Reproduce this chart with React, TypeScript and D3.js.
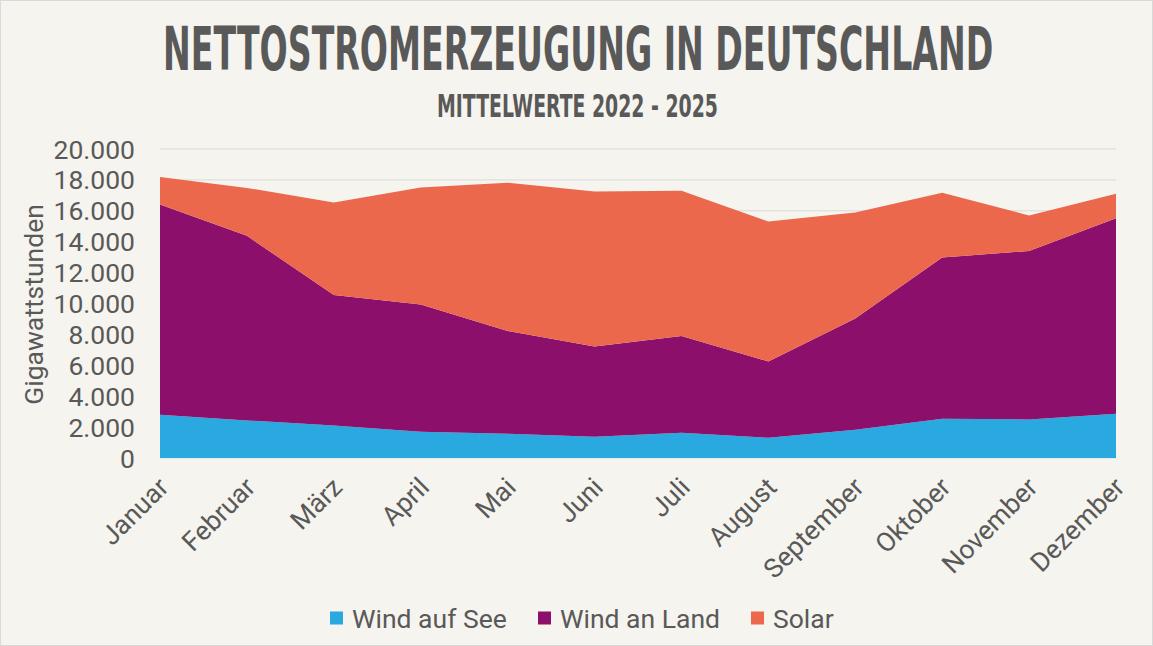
import * as d3 from "d3";
import { useLayoutEffect, useRef, useState } from "react";

const months = [
  "Januar", "Februar", "März", "April", "Mai", "Juni",
  "Juli", "August", "September", "Oktober", "November", "Dezember",
];
// monthly averages 2022-2025, GWh
const windOffshore = [2800, 2430, 2110, 1700, 1570, 1380, 1640, 1310, 1830, 2540, 2500, 2870];
const windOnshore = [13600, 11950, 8440, 8240, 6650, 5840, 6260, 4940, 7200, 10440, 10900, 12640];
const solar = [1790, 3100, 5990, 7570, 9600, 10030, 9400, 9060, 6860, 4190, 2300, 1600];
const yTicks = [0, 2000, 4000, 6000, 8000, 10000, 12000, 14000, 16000, 18000, 20000];

const seriesNames = ["Wind auf See", "Wind an Land", "Solar"];
const seriesColors = ["#29a9e0", "#8c0f6b", "#eb684c"];

const W = 1153;
const H = 646;
const textColor = "#595959";
const font = "Roboto, 'Noto Sans', sans-serif";
const titleFont = "'DejaVu Sans Condensed', 'DejaVu Sans', sans-serif";

// squeezes a bold heading horizontally so it spans `width` px
const FitText = ({ x, y, width, size, children }: any) => {
  const ref = useRef<SVGTextElement>(null);
  const [sx, setSx] = useState(0.7);
  useLayoutEffect(() => {
    if (ref.current) {
      const w = ref.current.getBBox().width;
      if (w > 0) setSx(width / w);
    }
  }, [width, children]);
  return (
    <g transform={`translate(${x},${y}) scale(${sx},1)`}>
      <text
        ref={ref}
        fontFamily={titleFont}
        fontWeight="bold"
        fontSize={size}
        fill={textColor}
      >
        {children}
      </text>
    </g>
  );
};

export default function App() {
  const rows = months.map((m, i) => ({
    month: m,
    s0: windOffshore[i],
    s1: windOnshore[i],
    s2: solar[i],
  }));
  const stack = d3.stack<any>().keys(["s0", "s1", "s2"]);
  const layers = stack(rows);

  const x = d3.scalePoint<string>().domain(months).range([160, 1116]);
  const y = d3.scaleLinear().domain([0, 20000]).range([458, 149]);

  const area = d3
    .area<any>()
    .x((d) => x(d.data.month)!)
    .y0((d) => y(d[0]))
    .y1((d) => y(d[1]));

  const fmt = d3.formatLocale({
    decimal: ",",
    thousands: ".",
    grouping: [3],
    currency: ["", "€"],
  }).format(",d");

  // legend items laid out left to right
  const legendX = [330, 538, 751];

  return (
    <svg
      width={W}
      height={H}
      style={{ position: "absolute", left: 0, top: 0 }}
      fontFamily={font}
    >
      <rect x={0.5} y={0.5} width={W - 1} height={H - 1} fill="#f5f4ee" stroke="#d9d9d9" />

      <FitText x={163} y={70} width={830} size={60}>
        NETTOSTROMERZEUGUNG IN DEUTSCHLAND
      </FitText>
      <FitText x={437} y={117} width={281} size={32}>
        MITTELWERTE 2022 - 2025
      </FitText>

      {yTicks.map((t) => (
        <line key={t} x1={160} x2={1116} y1={y(t)} y2={y(t)} stroke="#d9d9d9" strokeWidth={1} />
      ))}

      {layers.map((layer, i) => (
        <path key={i} d={area(layer as any)!} fill={seriesColors[i]} />
      ))}

      {yTicks.map((t) => (
        <text
          key={t}
          x={135}
          y={y(t)}
          dy="0.36em"
          textAnchor="end"
          fontSize={26.5}
          fill={textColor}
        >
          {fmt(t)}
        </text>
      ))}

      <text
        transform={`translate(43,${y(10000) + 1}) rotate(-90)`}
        textAnchor="middle"
        fontSize={26.5}
        fill={textColor}
      >
        Gigawattstunden
      </text>

      {months.map((m) => (
        <text
          key={m}
          transform={`translate(${x(m)! + 10},${489}) rotate(-45)`}
          textAnchor="end"
          fontSize={26.5}
          fill={textColor}
        >
          {m}
        </text>
      ))}

      {seriesNames.map((n, i) => (
        <g key={n} transform={`translate(${legendX[i]},618)`}>
          <rect x={0} y={-6.5} width={13} height={13} fill={seriesColors[i]} />
          <text x={22} y={0} dy="0.36em" fontSize={26.5} fill={textColor}>
            {n}
          </text>
        </g>
      ))}
    </svg>
  );
}
